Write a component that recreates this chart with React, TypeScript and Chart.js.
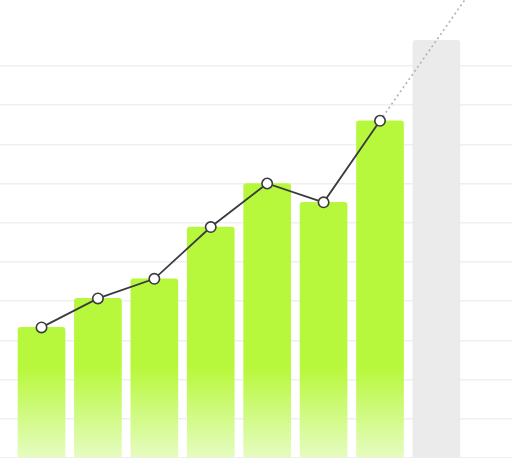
import React, { useEffect, useRef } from "react";
import { Chart, registerables } from "chart.js";

Chart.register(...registerables);

const positions = [1, 2, 3, 4, 5, 6, 7, 8];
const barValues = [33.3, 40.7, 45.7, 58.9, 70.0, 65.2, 86.0, 106.5];
const lineValues = [33.3, 40.7, 45.7, 58.9, 70.0, 65.2, 86.0];
const projectionX = [7, 8, 9];
const projectionValues = [86.0, 106.5, 127.0];
const gridTicks = [0, 10, 20, 30, 40, 50, 60, 70, 80, 90, 100];

export default function App() {
  const ref = useRef<HTMLCanvasElement | null>(null);

  useEffect(() => {
    document.body.style.margin = "0";
    const canvas = ref.current;
    if (!canvas) return;

    const barColor = (ctx: any) => {
      const chart = ctx.chart;
      const area = chart.chartArea;
      if (ctx.dataIndex === positions.length - 1) return "#ebebeb";
      if (!area) return "#b8f83c";
      const g = chart.ctx.createLinearGradient(0, area.bottom - 90, 0, area.bottom);
      g.addColorStop(0, "#b8f83c");
      g.addColorStop(1, "#e6fcc2");
      return g;
    };

    const chart = new Chart(canvas, {
      type: "bar",
      data: {
        datasets: [
          {
            type: "line",
            data: projectionX.map((x, i) => ({ x, y: projectionValues[i] })),
            borderColor: "#b0b0ba",
            borderWidth: 1.6,
            borderDash: [2, 3],
            pointRadius: 0,
            fill: false,
            order: 1,
          } as any,
          {
            type: "line",
            data: lineValues.map((v, i) => ({ x: positions[i], y: v })),
            borderColor: "#3a3a40",
            borderWidth: 1.8,
            pointRadius: 5.2,
            pointBackgroundColor: "#ffffff",
            pointBorderColor: "#3a3a40",
            pointBorderWidth: 1.6,
            fill: false,
            clip: 8,
            order: 0,
          } as any,
          {
            type: "bar",
            data: barValues.map((v, i) => ({ x: positions[i], y: v })),
            backgroundColor: barColor,
            borderRadius: 3,
            borderSkipped: "bottom",
            barThickness: 47,
            order: 2,
          } as any,
        ],
      },
      options: {
        animation: false,
        responsive: false,
        maintainAspectRatio: false,
        layout: { padding: 0, autoPadding: false },
        plugins: { legend: { display: false }, tooltip: { enabled: false } },
        scales: {
          x: {
            type: "linear",
            min: 0.264,
            max: 9.34,
            offset: false,
            display: false,
          },
          y: {
            min: 0,
            max: 116.8,
            afterBuildTicks: (scale: any) => {
              scale.ticks = gridTicks.map((v) => ({ value: v }));
            },
            ticks: { display: false },
            border: { display: false },
            grid: { color: "#efeff3", lineWidth: 1.5, drawTicks: false },
          },
        },
      },
    });
    return () => chart.destroy();
  }, []);

  return (
    <div style={{ position: "fixed", left: 0, top: 0, width: 512, height: 458 }}>
      <canvas ref={ref} width={512} height={458} style={{ width: 512, height: 458 }} />
    </div>
  );
}
